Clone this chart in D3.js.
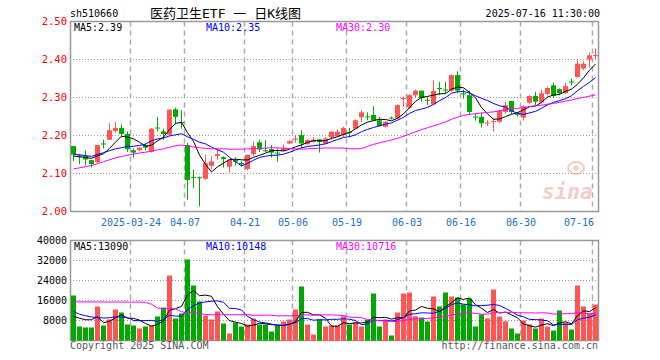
<!DOCTYPE html>
<html>
<head>
<meta charset="utf-8">
<script src="https://cdn.jsdelivr.net/npm/d3@7"></script>
<style>
  body { margin: 0; background: #fff; }
  text { font-family: "DejaVu Sans Mono", "Noto Sans CJK SC", monospace; }
</style>
</head>
<body>
<svg id="chart" width="660" height="360"></svg>
<script>

// trading days shown (2025)
var dates = [
  "03-10","03-11","03-12","03-13","03-14","03-17","03-18","03-19","03-20","03-21",
  "03-24","03-25","03-26","03-27","03-28","03-31","04-01","04-02","04-03","04-07",
  "04-08","04-09","04-10","04-11","04-14","04-15","04-16","04-17","04-18","04-21",
  "04-22","04-23","04-24","04-25","04-28","04-29","04-30","05-06","05-07","05-08",
  "05-09","05-12","05-13","05-14","05-15","05-16","05-19","05-20","05-21","05-22",
  "05-23","05-26","05-27","05-28","05-29","05-30","06-03","06-04","06-05","06-06",
  "06-09","06-10","06-11","06-12","06-13","06-16","06-17","06-18","06-19","06-20",
  "06-23","06-24","06-25","06-26","06-27","06-30","07-01","07-02","07-03","07-04",
  "07-07","07-08","07-09","07-10","07-11","07-14","07-15","07-16"
];

var open = [
  2.172,2.147,2.146,2.135,2.130,2.179,2.189,2.212,2.220,2.204,
  2.161,2.162,2.175,2.157,2.221,2.211,2.202,2.269,2.235,2.175,
  2.091,2.090,2.086,2.120,2.146,2.143,2.118,2.136,2.128,2.112,
  2.151,2.182,2.161,2.164,2.155,2.159,2.179,2.190,2.201,2.177,
  2.183,2.190,2.179,2.195,2.198,2.201,2.209,2.218,2.248,2.250,
  2.254,2.240,2.223,2.247,2.245,2.296,2.273,2.306,2.318,2.294,
  2.282,2.325,2.321,2.318,2.359,2.311,2.306,2.250,2.249,2.232,
  2.236,2.236,2.262,2.291,2.257,2.247,2.286,2.304,2.287,2.309,
  2.332,2.322,2.312,2.342,2.354,2.376,2.400,2.410
];
var high = [
  2.173,2.151,2.160,2.136,2.176,2.189,2.232,2.236,2.229,2.211,
  2.166,2.170,2.179,2.220,2.249,2.218,2.269,2.273,2.267,2.181,
  2.110,2.092,2.149,2.145,2.162,2.145,2.138,2.142,2.132,2.150,
  2.185,2.189,2.188,2.175,2.166,2.176,2.188,2.201,2.214,2.190,
  2.196,2.190,2.196,2.211,2.216,2.223,2.220,2.242,2.267,2.261,
  2.277,2.249,2.238,2.250,2.282,2.303,2.309,2.321,2.318,2.302,
  2.346,2.341,2.341,2.361,2.369,2.321,2.318,2.258,2.260,2.240,
  2.245,2.267,2.289,2.291,2.262,2.280,2.306,2.315,2.321,2.328,
  2.339,2.324,2.339,2.350,2.401,2.396,2.418,2.429
];
var low = [
  2.133,2.125,2.121,2.116,2.128,2.166,2.188,2.208,2.196,2.157,
  2.141,2.159,2.161,2.155,2.211,2.188,2.200,2.229,2.218,2.031,
  2.062,2.013,2.084,2.110,2.136,2.116,2.103,2.121,2.118,2.108,
  2.146,2.157,2.156,2.142,2.131,2.159,2.177,2.181,2.166,2.176,
  2.181,2.155,2.177,2.189,2.196,2.196,2.196,2.217,2.236,2.240,
  2.238,2.223,2.221,2.242,2.243,2.276,2.271,2.299,2.289,2.280,
  2.281,2.306,2.311,2.315,2.311,2.297,2.254,2.239,2.221,2.225,
  2.210,2.233,2.258,2.256,2.250,2.239,2.284,2.280,2.284,2.306,
  2.300,2.306,2.309,2.332,2.353,2.372,2.379,2.400
];
var close = [
  2.150,2.145,2.137,2.125,2.175,2.178,2.214,2.220,2.204,2.164,
  2.155,2.168,2.168,2.218,2.220,2.204,2.268,2.249,2.233,2.083,
  2.089,2.089,2.127,2.132,2.151,2.138,2.136,2.131,2.124,2.149,
  2.172,2.163,2.160,2.155,2.153,2.166,2.185,2.192,2.179,2.188,
  2.189,2.183,2.192,2.210,2.210,2.220,2.207,2.240,2.261,2.248,
  2.240,2.225,2.236,2.245,2.280,2.299,2.306,2.318,2.299,2.292,
  2.317,2.323,2.319,2.359,2.318,2.309,2.262,2.248,2.232,2.234,
  2.238,2.265,2.280,2.262,2.255,2.277,2.304,2.289,2.311,2.325,
  2.304,2.311,2.330,2.340,2.389,2.389,2.411,2.412
];
var volume = [
  18000,5600,5200,5200,13600,6000,8400,12400,11200,6400,
  6000,4800,5600,6000,9600,13200,26000,8800,10800,32400,
  22000,15600,10000,8400,11600,6800,2800,7200,5600,6400,
  8800,6400,6400,3600,6000,7600,8400,12400,21600,6400,
  2400,8400,5600,6000,6000,9700,6400,7300,5600,8300,
  18800,5600,8000,2000,11200,18800,19200,9700,9200,7600,
  17600,13600,19200,17600,17200,14400,16800,5600,10400,8800,
  20400,9600,7700,4800,2800,8000,6400,4800,8800,5600,
  4000,12000,7200,4400,22000,13600,10800,14400
];

// moving-average values before a full window exists
var ma5Lead = [2.146,2.144,2.142,2.140];
var ma10Lead = [2.151,2.149,2.147,2.145,2.150,2.155,2.160,2.165,2.168];
var ma30Lead = [
  2.112,2.115,2.118,2.121,2.126,2.131,2.136,2.141,2.145,2.148,
  2.151,2.154,2.156,2.159,2.162,2.165,2.169,2.173,2.175,2.172,
  2.170,2.168,2.166,2.165,2.165,2.165,2.164,2.164,2.164
];
var volMa5Lead = [9700,8900,8300,8300];
var volMa10Lead = [11600,10500,9900,9400,9200,9000,9100,9500,9400];
var volMa30Lead = [
  15470,15450,15430,15420,15400,15400,15380,15380,15370,15360,
  15350,15340,15250,14500,13000,12700,12700,12700,11500,11100,
  11100,10800,10400,10300,10300,10300,10300,10300,10300
];

var priceTicks = [2.0, 2.1, 2.2, 2.3, 2.4, 2.5];
var volTicks = [8000, 16000, 24000, 32000, 40000];
var dateTicks = ["03-24","04-07","04-21","05-06","05-19","06-03","06-16","06-30","07-16"];
var dateTickLabels = ["2025-03-24","04-07","04-21","05-06","05-19","06-03","06-16","06-30","07-16"];

var priceLegend = ["MA5:2.39", "MA10:2.35", "MA30:2.30"];
var volLegend = ["MA5:13090", "MA10:10148", "MA30:10716"];


var RED = "#ff5555", GREEN = "#00a800";
var maColors = ["#000000", "#0000ff", "#ff00ff"];
var FS = 10;

function movingAvg(arr, n, lead) {
    return arr.map((d, i) => i < n - 1 ? lead[i] : d3.mean(arr.slice(i - n + 1, i + 1)));
}

function setup() {
    var svg = d3.select("#chart");
    var left = 70, right = 598;

    var x = d3.scaleBand().domain(dates).range([left, right]);
    var y = d3.scaleLinear().domain([2.0, 2.5]).range([211.5, 21.5]);
    var yv = d3.scaleLinear().domain([0, 40000]).range([340.5, 240.5]);
    var cx = d => x(d) + 3.5;

    var candles = dates.map((d, i) => ({date: d, o: open[i], h: high[i], l: low[i], c: close[i], v: volume[i]}));
    var color = d => d.c >= d.o ? RED : GREEN;

    // header
    svg.append("text").attr("x", 70).attr("y", 17).attr("font-size", FS).text("sh510660");
    svg.append("text").attr("x", 150).attr("y", 18).attr("font-size", 13).text("医药卫生ETF 一 日K线图");
    svg.append("text").attr("x", 600).attr("y", 17).attr("font-size", FS)
       .attr("text-anchor", "end").text("2025-07-16 11:30:00");

    // watermark
    var wm = svg.append("g").attr("opacity", 0.35);
    wm.append("text").attr("x", 542).attr("y", 199).attr("font-size", 21)
      .attr("font-style", "italic").attr("font-weight", "bold")
      .attr("font-family", "Liberation Sans, sans-serif").attr("fill", "#e36a6a").text("sina");
    wm.append("ellipse").attr("cx", 576).attr("cy", 168).attr("rx", 8).attr("ry", 6)
      .attr("fill", "none").attr("stroke", "#e36a6a").attr("stroke-width", 2);
    wm.append("circle").attr("cx", 576).attr("cy", 168).attr("r", 2.5).attr("fill", "#e36a6a");

    // panels
    [[y, priceTicks, 21.5, 211.5], [yv, volTicks, 240.5, 340.5]].forEach(p => {
        var sc = p[0], top = p[2], bot = p[3];
        svg.append("g").selectAll("line")
           .data(p[1].filter(t => sc(t) > top + 1 && sc(t) < bot - 1))
           .join("line")
           .attr("x1", left).attr("x2", right)
           .attr("y1", d => sc(d)).attr("y2", d => sc(d))
           .attr("stroke", "#999").attr("stroke-dasharray", "1,2");
        svg.append("g").selectAll("line")
           .data(dateTicks)
           .join("line")
           .attr("x1", d => x(d) + 0.5).attr("x2", d => x(d) + 0.5)
           .attr("y1", top).attr("y2", bot)
           .attr("stroke", "#aaa").attr("stroke-width", 1.5).attr("stroke-dasharray", "5,4");
        svg.append("rect").attr("x", left + 0.5).attr("y", top)
           .attr("width", right - left).attr("height", bot - top)
           .attr("fill", "none").attr("stroke", "#999").attr("stroke-width", 1.5);
    });

    // price axis
    var gy = svg.append("g").attr("transform", `translate(${left},0)`)
                .call(d3.axisLeft(y).tickValues(priceTicks).tickSize(0).tickPadding(3)
                        .tickFormat(d3.format(".2f")));
    gy.select(".domain").remove();
    gy.selectAll("text").attr("fill", "#ff0000").attr("font-size", FS + 0.5)
      .attr("font-family", "DejaVu Sans Mono, monospace");

    var gv = svg.append("g").attr("transform", `translate(${left},0)`)
                .call(d3.axisLeft(yv).tickValues(volTicks).tickSize(0).tickPadding(3));
    gv.select(".domain").remove();
    gv.selectAll("text").attr("fill", "#000").attr("font-size", FS)
      .attr("font-family", "DejaVu Sans Mono, monospace")
      .text(d => d);

    // date labels
    svg.append("g").selectAll("text")
       .data(dateTicks)
       .join("text")
       .attr("x", (d, i) => i == dateTicks.length - 1 ? right - 4 : x(d) + 1)
       .attr("y", 226)
       .attr("text-anchor", (d, i) => i == dateTicks.length - 1 ? "end" : "middle")
       .attr("font-size", FS)
       .attr("fill", "#1a6fc9")
       .text((d, i) => dateTickLabels[i]);

    // candles
    var cg = svg.append("g");
    cg.selectAll("line")
      .data(candles)
      .join("line")
      .attr("x1", d => cx(d.date)).attr("x2", d => cx(d.date))
      .attr("y1", d => y(d.h)).attr("y2", d => y(d.l))
      .attr("stroke", color);
    cg.selectAll("rect")
      .data(candles)
      .join("rect")
      .attr("x", d => x(d.date) + 1)
      .attr("width", 5)
      .attr("y", d => y(Math.max(d.o, d.c)))
      .attr("height", d => Math.max(1, Math.abs(y(d.o) - y(d.c))))
      .attr("fill", color);

    // volume bars
    svg.append("g").selectAll("rect")
       .data(candles)
       .join("rect")
       .attr("x", d => x(d.date) + 1)
       .attr("width", 5)
       .attr("y", d => yv(d.v))
       .attr("height", d => yv(0) - yv(d.v))
       .attr("fill", color);

    // moving averages
    var priceMa = [movingAvg(close, 5, ma5Lead), movingAvg(close, 10, ma10Lead), movingAvg(close, 30, ma30Lead)];
    var volMa = [movingAvg(volume, 5, volMa5Lead), movingAvg(volume, 10, volMa10Lead), movingAvg(volume, 30, volMa30Lead)];

    [[priceMa, y], [volMa, yv]].forEach(p => {
        var line = d3.line().x((d, i) => cx(dates[i])).y(d => p[1](d));
        svg.append("g").selectAll("path")
           .data(p[0])
           .join("path")
           .attr("d", line)
           .attr("fill", "none")
           .attr("stroke", (d, i) => maColors[i])
           .attr("stroke-width", 1);
    });

    // legends
    var legX = [74, 206, 336];
    [[priceLegend, 31], [volLegend, 250]].forEach(p => {
        svg.append("g").selectAll("text")
           .data(p[0])
           .join("text")
           .attr("x", (d, i) => legX[i]).attr("y", p[1])
           .attr("font-size", FS)
           .attr("fill", (d, i) => maColors[i])
           .text(d => d);
    });

    // footer
    svg.append("text").attr("x", 70).attr("y", 349).attr("font-size", FS)
       .attr("fill", "#555").text("Copyright 2025 SINA.COM");
    svg.append("text").attr("x", 598).attr("y", 349).attr("font-size", FS)
       .attr("text-anchor", "end").attr("fill", "#555").text("http://finance.sina.com.cn");
}

window.addEventListener("load", setup);
</script>
</body>
</html>
